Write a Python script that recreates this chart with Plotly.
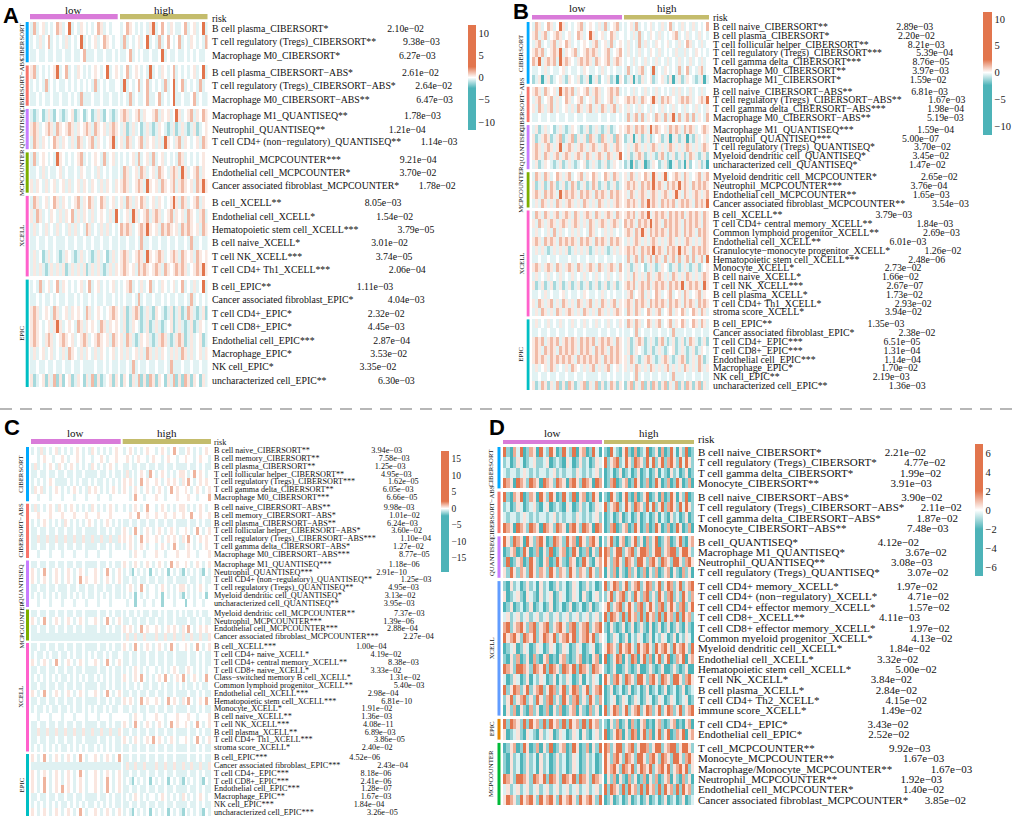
import plotly.graph_objects as go

W, H = 1020, 820
SERIF = "Liberation Serif"
SANS = "Liberation Sans"
TEAL = "#4DB3B8"
ORANGE = "#E2754D"
LOW_COLOR = "#D97BD9"
HIGH_COLOR = "#C4BC6C"

# cell shade codes (T strong teal ... O strong orange)
LEVELS = {"T": -3.0, "t": -1.2, "p": -0.4, ".": 0.0, "q": 0.4, "o": 1.2, "O": 3.0}

# ---------------- panel A ----------------
A_GROUPS = ["CIBERSORT", "CIBERSORT−ABS", "QUANTISEQ", "MCPCOUNTER", "XCELL", "EPIC"]
A_SIZES = [3, 3, 3, 3, 6, 8]
A_LABELS = [
    "B cell plasma_CIBERSORT*", "T cell regulatory (Tregs)_CIBERSORT**", "Macrophage M0_CIBERSORT*",
    "B cell plasma_CIBERSORT−ABS*", "T cell regulatory (Tregs)_CIBERSORT−ABS*", "Macrophage M0_CIBERSORT−ABS**",
    "Macrophage M1_QUANTISEQ**", "Neutrophil_QUANTISEQ**", "T cell CD4+ (non−regulatory)_QUANTISEQ**",
    "Neutrophil_MCPCOUNTER***", "Endothelial cell_MCPCOUNTER*", "Cancer associated fibroblast_MCPCOUNTER*",
    "B cell_XCELL**", "Endothelial cell_XCELL*", "Hematopoietic stem cell_XCELL***",
    "B cell naive_XCELL*", "T cell NK_XCELL***", "T cell CD4+ Th1_XCELL***",
    "B cell_EPIC**", "Cancer associated fibroblast_EPIC*", "T cell CD4+_EPIC*", "T cell CD8+_EPIC*",
    "Endothelial cell_EPIC***", "Macrophage_EPIC*", "NK cell_EPIC*", "uncharacterized cell_EPIC**",
]
A_PVALUES = [
    "2.10e−02", "9.38e−03", "6.27e−03",
    "2.61e−02", "2.64e−02", "6.47e−03",
    "1.78e−03", "1.21e−04", "1.14e−03",
    "9.21e−04", "3.70e−02", "1.78e−02",
    "8.05e−03", "1.54e−02", "3.79e−05", "3.01e−02", "3.74e−05", "2.06e−04",
    "1.11e−03", "4.04e−03", "2.32e−02", "4.45e−03", "2.87e−04", "3.53e−02", "3.35e−02", "6.30e−03",
]
A_CELLS = [
    "pop.qp.p.o qp.Op.pq.p .p.oqp.p.. | p.oq.p.p.p qOp.o.pq.p p.op.qp.Op",
    "p.pqp.op.p .pqp.p.Op. p.qp.oq.p. | pop.p.qp.O p.pop.o.p. op.pq.p.po",
    "pp.pp.pp.p p.pp.pp.op pp.pp.pp.p | pp.op.p.pp .pp.Op.pp. pp.p.p.pp.",
    "qop.p.p.qO p.op.pq.p. p.q.p.Op.q | p.op.q.p.p Op.pq.p.op .p.p.qp.Op",
    "p.p.pop.p. pp.p.p.p.p .pop.p.pp. | pOp.p.op.o p.p.pop.Op .op.p.pop.",
    "pp.p.pp.pp .pp.p.popp p.pp.pp.pp | p.pop.pp.o pp.op.p.Op p.pp.op.pp",
    "ptp.tpqpt. ptp.qtp.tp .tpqpt.ptp | qoqp.qopq. .qopq.qp.O qp.qopq.oq",
    "qoqp.qoqpo q.qoqpq.qo qpoq.qpqoq | pqtpqp.tpq ptpq.ptpqt pqptpqtp.q",
    "poqpq.p.oq pq.pqpoqp. qopq.p.qOp | qpoqp.qopq .qpqpOq.pq opq.p.qpoq",
    "pop.q.p.pO q.p.p.qop. p.q.pop.qp | p.p.qpop.q pop.qp.p.p oqp.p.p.q.",
    "pp.pqp.pp. qp.pp.pq.p p.pqp.p.pp | poqp.qpoqp .qpoq.pqoq pOqp.qopq.",
    "qpq.pqp.qp .qpqp.qpq. pq.pqpq.pq | qoqp.qoqpO q.qpoq.qop qoq.qpoqOq",
    "poqp.qp.oq pq.p.qopq. oqp.oqp.qp | qpoqpq.oqp .qpq.p.qOq poqp.qopq.",
    "qpoqp.pq.p qpq.opqpq. pqp.q.pqpO | p.qpOqp.qo pqoqp.qopq .qpoq.pqop",
    "pqp.pqp.pq p.pqpqp.po qp.pqpqp.p | oqoqp.qoqO q.qpoqoq.q poqoq.qpoq",
    "pp.pp.pp.p pp.pp.pp.p p.pp.pp.pp | pp.pp.popp .pp.pp.pp. pp.popp.pp",
    "pqp.tpqp.p tpq.ptpqp. ptpqp.tpqp | qoqp.qoqpO q.qoqp.qoq poq.qpoq.q",
    "pqpqptpqpq pqtpqpqpqt pqpqptpqpq | qoq.qpoqoq .qoqpoq.qo qoqp.qoqOq",
    "p.pop.qp.o pq.p.p.qp. op.qp.p.qp | p.qop.pqp. op.pq.p.qp .op.pqp.Op",
    "pp.p.pp.p. pp.pp.p.pp .p.pp.pp.p | p.pp.pop.p p.pp.p.pp. pp.pop.p.p",
    "qoqp.q.poq p.qpq.q.po qp.q.p.qoq | pqtpqoqtpq ptq.ptpqtp qtpoqptpqt",
    "qoq.p.qpqO qp.q.poqpq .q.poqpq.q | pqtpq.ptpq tpqptp.qtp qptpqtpq.p",
    "qoq.pqoqp. qoq.qp.qoq p.qoq.qpoq | qpoqptpq.q ptpqoqptpq oqtpqp.qtp",
    "pqp.qp.qp. pqpoq.pqpq .pqpq.p.qp | qpqp.qpqpo qpqpq.pqpq poqpqp.qpq",
    "pp.pp.pp.p p.pp.pp.pp pp.pp.p.pp | pp.pop.pp. pp.pp.popp p.pp.pp.pp",
    "qtp.qtqpot qt.qtpq.tq potqtp.qtq | tq.tqpotqt oqtq.tqpot qtoqtq.tqp",
]

# ---------------- panel B ----------------
B_GROUPS = ["CIBERSORT", "CIBERSORT−ABS", "QUANTISEQ", "MCPCOUNTER", "XCELL", "EPIC"]
B_SIZES = [7, 4, 5, 4, 12, 8]
B_LABELS = [
    "B cell naive_CIBERSORT**", "B cell plasma_CIBERSORT*", "T cell follicular helper_CIBERSORT**",
    "T cell regulatory (Tregs)_CIBERSORT***", "T cell gamma delta_CIBERSORT***",
    "Macrophage M0_CIBERSORT**", "Macrophage M1_CIBERSORT*",
    "B cell naive_CIBERSORT−ABS**", "T cell regulatory (Tregs)_CIBERSORT−ABS**",
    "T cell gamma delta_CIBERSORT−ABS***", "Macrophage M0_CIBERSORT−ABS**",
    "Macrophage M1_QUANTISEQ***", "Neutrophil_QUANTISEQ***", "T cell regulatory (Tregs)_QUANTISEQ*",
    "Myeloid dendritic cell_QUANTISEQ*", "uncharacterized cell_QUANTISEQ*",
    "Myeloid dendritic cell_MCPCOUNTER*", "Neutrophil_MCPCOUNTER***", "Endothelial cell_MCPCOUNTER**",
    "Cancer associated fibroblast_MCPCOUNTER**",
    "B cell_XCELL**", "T cell CD4+ central memory_XCELL**", "Common lymphoid progenitor_XCELL**",
    "Endothelial cell_XCELL**", "Granulocyte−monocyte progenitor_XCELL*", "Hematopoietic stem cell_XCELL***",
    "Monocyte_XCELL*", "B cell naive_XCELL*", "T cell NK_XCELL***", "B cell plasma_XCELL*",
    "T cell CD4+ Th1_XCELL*", "stroma score_XCELL*",
    "B cell_EPIC**", "Cancer associated fibroblast_EPIC*", "T cell CD4+_EPIC***", "T cell CD8+_EPIC***",
    "Endothelial cell_EPIC***", "Macrophage_EPIC*", "NK cell_EPIC**", "uncharacterized cell_EPIC**",
]
B_PVALUES = [
    "2.89e−03", "2.20e−02", "8.21e−03", "5.39e−04", "8.76e−05", "3.97e−03", "1.59e−02",
    "6.81e−03", "1.67e−03", "1.98e−04", "5.19e−03",
    "1.59e−04", "5.00e−07", "3.70e−02", "3.45e−02", "1.47e−02",
    "2.65e−02", "3.76e−04", "1.65e−03", "3.54e−03",
    "3.79e−03", "1.84e−03", "2.69e−03", "6.01e−03", "1.26e−02", "2.48e−06",
    "2.73e−02", "1.66e−02", "2.67e−07", "1.73e−02", "2.93e−02", "3.94e−02",
    "1.35e−03", "2.38e−02", "6.51e−05", "1.31e−04", "1.14e−04", "1.70e−02", "2.19e−03", "1.36e−03",
]
B_CELLS = [
    "poqp.oqp.O qp.p.qop.q .pqpop.qop | p.qpop.p.q p.pqp.op.p qp.pqp.p.o",
    "qopqop.qoq p.qp.oqp.O qp.qp.oqp. | p.pqpop.pq .pqp.p.qop .pqp.pqp.p",
    "pqop.pqopq .oqp.p.q.p qop.qpop.q | pqp.popqp. pq.p.qp.pq p.oqp.pqp.",
    "qoqop.qoqO pq.qop.qoq oqp.qop.qo | pqp.pqp.pq .pqp.p.pqp pqp.pq.p.p",
    "oqOpqoqopO qoq.pqoqoq poq.qopqoq | p.pqp.pqp. pqp.pqp.pq p.pqp.pqp.",
    "pp.pqp.pp. qp.pp.pq.p p.pqp.p.pp | pop.pqop.p Op.pq.p.po p.op.pqop.",
    "tpqTpqtp.q ptq.pqtpqT pqt.pqtpTq | tpqTptqp.q tp.qptqTpq tpq.ptpqTp",
    "qoqpoq.qpO qoqopq.qop qoqp.qoqop | p.pqp.pqp. pqp.p.pqpq p.pqp.pqp.",
    "pqop.qopqp .oqp.qop.q poqp.qopq. | qoqoqpoq.q Oqpoqoq.pq oqoqp.qoqO",
    "qpoqpqopqp .qpqpoqpqo pqpoqpqopq | pqp.pqp.pq p.pqp.pqp. pqp.pqp.pq",
    "pp.pp.pp.p p.pp.pp.pp pp.pp.pp.p | popqopopq. poqpopqOpo pqopopq.po",
    "pqtpqp.tpq ptpq.ptpqt pqptpqtp.q | qoqpoqoqpO qoq.qpoqoq poqoqp.qoq",
    "qtpqoqtpqo tpqotqpqto qptoqpqtoq | tpqTpqtpqt p.qtpqTpqt pqTptqp.qp",
    "qoqpqoqpqO pqoqpqoqpq oqpqoqpqoq | pqpqoqpqpq oqpqpqoqpq pqoqpqpqoq",
    "qoqpoqpqop qoqpqoqpoq pqoqpoqpqO | pqtpqoqtpq ptqoptpqtp qtpoqptpqt",
    "pqtpq.ptpq tpqptp.qtp qptpqtpq.p | tpTqtpqTtp q.tpqtTpqt pTqt.pqtpT",
    "poqpoqp.oq pqop.qopq. oqp.oqpoqp | qpoqpq.oqp OqpqOp.qoq poqp.qopqo",
    "qtpqtpoqtp qtpoqtpqtp oqtpqtpqtp | qoqoqpoqoq OqoqpoqoqO qoqpoqoqoq",
    "qoqpoqoqpO qoqoqpoqoq poqoqpoqoq | qpoqpqoqpq oqpqoqpqOq poqpqoqpqo",
    "pqpoqpqpoq pqoqpqpoqp qpoqpqpqoq | qoqoqpoqOq oqpoqoqopq oqoqpoqoqO",
    "poqpoqpqop qoqpoqpqoq poqpqoqpoq | qoqopqoqOp qoqoqpoqoq opqoqoqpoq",
    "qpoqpqoqpq oqpqoqpqpo qpqoqpqoqp | oqoqpoqoqO qoqpoqoqoq poqoqoqpoq",
    "pqp.pqpopq p.pqpqp.po qp.pqpqp.p | qoqpoqOqpo qoqoqpoqoq poqoqpoqoq",
    "qoqpoqoqpo qoqoqpoqoq poqoqpoqoq | pqpqoqpqpq oqpqpqoqpq pqoqpqpqoq",
    "pqpqptpqpq pqtpqpqpqt pqpqptpqpq | qoqoqpoqoq OqoqpoqoqO qoqpoqoqoq",
    "pp.pp.pp.p pp.pp.pp.p p.pp.pp.pp | popqopopqo poqpopqopo pqopopqopO",
    "qoqpqoqpoq pqoqpoqpqo qpoqpqoqpo | pqtpqp.tpq ptpq.ptpqt pqptpqtp.q",
    "pqp.pqp.pq p.pqp.pqp. pqp.pqp.pq | pqpoqpqpoq pqoqpqpoqp qpoqpqpqoq",
    "qtpqtpqtpq tpqtpqtpqt pqtpqtpqtp | qoqopqoqop qoqoqpoqoq OpqoqoqpOq",
    "pp.pqp.pp. qp.pp.pq.p p.pqp.p.pp | pqop.qopqp .oqp.qop.q poqp.qopq.",
    "qpoqpqopqp oqpqpoqpqo pqpoqpqopq | qoqpoqoqpo qoqoqpoqoq poqoqpoqoq",
    "pqpoqpqpoq pqoqpqpoqp qpoqpqpqoq | poqpoqp.oq pqop.qopq. oqp.oqpoqp",
    "pqp.pqp.pq p.pqp.pqp. pqp.pqp.pq | poqpoqp.oq pqop.qopq. oqp.oqpoqp",
    "pp.pp.pp.p p.pp.pp.pp pp.pp.pp.p | pp.pop.pp. pp.pp.popp p.pp.pp.pp",
    "qoqopqoqop qoqoqpoqoq opqoqoqpoq | pqtpqoqtpq ptqoptpqtp qtpoqptpqt",
    "qoqpoqoqpo qoqoqpoqoq poqoqpoqoq | pqtpq.ptpq tpqptp.qtp qptpqtpq.p",
    "qoqoqpoqoq oqoqpoqoqo qoqpoqoqoq | qpoqptpqoq ptpqoqptpq oqtpqpoqtp",
    "pqp.qpoqp. pqpoq.pqpq opqpqop.qp | qpqpoqpqpo qpqpqopqpq poqpqpoqpq",
    "pp.pp.pp.p p.pp.pp.pp pp.pp.p.pp | pp.pop.pp. pp.pp.popp p.pp.pp.pp",
    "qtpoqtqpot qtoqtpqotq potqtpoqtq | tqotqpotqt oqtqotqpot qtoqtqotqp",
]

# ---------------- panel C ----------------
C_GROUPS = ["CIBERSORT", "CIBERSORT−ABS", "QUANTISEQ", "MCPCOUNTER", "XCELL", "EPIC"]
C_SIZES = [7, 7, 6, 4, 14, 8]
C_LABELS = [
    "B cell naive_CIBERSORT**", "B cell memory_CIBERSORT**", "B cell plasma_CIBERSORT**",
    "T cell follicular helper_CIBERSORT**", "T cell regulatory (Tregs)_CIBERSORT***",
    "T cell gamma delta_CIBERSORT**", "Macrophage M0_CIBERSORT***",
    "B cell naive_CIBERSORT−ABS**", "B cell memory_CIBERSORT−ABS*", "B cell plasma_CIBERSORT−ABS**",
    "T cell follicular helper_CIBERSORT−ABS*", "T cell regulatory (Tregs)_CIBERSORT−ABS***",
    "T cell gamma delta_CIBERSORT−ABS*", "Macrophage M0_CIBERSORT−ABS***",
    "Macrophage M1_QUANTISEQ***", "Neutrophil_QUANTISEQ***", "T cell CD4+ (non−regulatory)_QUANTISEQ**",
    "T cell regulatory (Tregs)_QUANTISEQ**", "Myeloid dendritic cell_QUANTISEQ*",
    "uncharacterized cell_QUANTISEQ**",
    "Myeloid dendritic cell_MCPCOUNTER**", "Neutrophil_MCPCOUNTER***", "Endothelial cell_MCPCOUNTER***",
    "Cancer associated fibroblast_MCPCOUNTER***",
    "B cell_XCELL***", "T cell CD4+ naive_XCELL*", "T cell CD4+ central memory_XCELL**",
    "T cell CD8+ naive_XCELL*", "Class−switched memory B cell_XCELL*", "Common lymphoid progenitor_XCELL**",
    "Endothelial cell_XCELL***", "Hematopoietic stem cell_XCELL***", "Monocyte_XCELL*",
    "B cell naive_XCELL**", "T cell NK_XCELL***", "B cell plasma_XCELL**", "T cell CD4+ Th1_XCELL***",
    "stroma score_XCELL*",
    "B cell_EPIC***", "Cancer associated fibroblast_EPIC***", "T cell CD4+_EPIC***", "T cell CD8+_EPIC***",
    "Endothelial cell_EPIC***", "Macrophage_EPIC**", "NK cell_EPIC***", "uncharacterized cell_EPIC***",
]
C_PVALUES = [
    "3.94e−03", "7.58e−03", "1.25e−03", "4.95e−03", "1.62e−05", "6.05e−03", "6.66e−05",
    "9.98e−03", "1.01e−02", "6.24e−03", "3.60e−02", "1.10e−04", "1.27e−02", "8.77e−05",
    "1.18e−06", "2.91e−10", "1.25e−03", "4.95e−03", "3.13e−02", "3.95e−03",
    "7.37e−03", "1.39e−06", "2.88e−04", "2.27e−04",
    "1.00e−04", "4.19e−02", "8.38e−03", "3.33e−02", "1.31e−02", "5.40e−03", "2.98e−04",
    "6.81e−10", "1.91e−02", "1.36e−03", "4.08e−11", "6.89e−03", "3.86e−05", "2.40e−02",
    "4.52e−06", "2.43e−04", "8.18e−06", "2.41e−06", "1.28e−07", "1.67e−03", "1.84e−04", "3.26e−05",
]
C_CELLS = [
    "p.pqp.p.qp .p.p.q.p.p q.p.p.p.q. | p.q.p.p.q. .p.q.p.o.p p.q.p.p.q.",
    "..p.q..p.. q.p..q.p.. p..q.p..q. | .q.p.q..p. q..p.q..p. .q..p.q..p",
    "pqp.p.q.pq .p.q.p.p.p q.p.p.q.p. | pp.pp.pp.p p.pp.pp.pp pp.pp.p.pp",
    "pp.pp.pp.p p.pp.pp.pp pp.pp.p.pp | pqp.p.q.po .p.q.p.p.q q.p.o.q.p.",
    "p.p.p.q.pp pp.p.p.pp. p.pp.p.p.p | q.q.p.o.q. .q.p.q.q.p q.o.p.q.q.",
    "pq.qp.p.q. p.p.q.p.pq .q.p.p.q.p | q.p.q.p.q. p.q.p.o.q. .q.p.q.p.q",
    "..p...p... p...p...p. ..p...p... | ..p.o..p.. .q..p...q. ..q..p...o",
    "pqp.p.q.pq .p.q.p.p.p q.p.p.q.p. | p.p.q.p.o. .p.q.p.p.q q.p.p.q.p.",
    "..q...q... q...q...q. ..q...q... | ..q..o..q. .q..q..q.. q..o..q..q",
    "p.p.q.p.p. pq.p.p.p.q .p.p.q.p.p | pp.pp.pp.p p.pp.pp.pp pp.pp.p.pp",
    "pp.pp.pp.p p.pp.pp.pp pp.pp.p.pp | q.p.o.p.q. p.q.p.q.p. .q.p.o.p.q",
    "ppqppqppqp pqppqppqpp qppqppqppq | q.q.p.o.q. .q.p.q.q.p q.o.p.q.q.",
    "pp.pp.pp.p p.pp.pp.pp pp.pp.p.pp | p.q.p.q.p. .p.q.p.o.p p.q.p.p.q.",
    "..p...p... p...p...p. ..p...p... | ..p.q..p.. .q..p...q. ..q..p...q",
    "pp.pp.pp.p p.pp.pp.pp pp.pp.p.pp | q.p.q.p.q. p.q.p.o.q. .q.p.q.p.q",
    "q.p.o.p.q. p.q.p.q.p. .q.p.o.p.q | p.pt.p.p.t .p.p.t.p.p t.p.p.pt.p",
    "q.p.q.p.q. p.q.p.o.q. .q.p.q.p.q | pp.pp.pp.p p.pp.pp.pp pp.pp.p.pp",
    "pp.pp.pp.p pp.pp.pp.p p.pp.pp.pp | p.q.p.o.p. .p.q.p.p.q q.p.p.q.p.",
    "p.p.p.p.p. pp.p.p.p.p p.p.p.p.pp | p.p.t.p.p. .p.t.p.p.p t.p.p.p.t.",
    "..p...p... p...p...p. ..p...p... | .p..t..p.. p..t...p.. .t..p..p..",
    "pp.pp.pp.p p.pp.pp.pp pp.pp.p.pp | p.pp.p.pp. pp.p.pp.p. p.pp.p.pp.",
    "q.p.o.p.q. p.q.p.q.p. .q.p.o.p.q | pp.pp.pp.p p.pp.pp.pp pp.pp.p.pp",
    "pp.pp.pp.p p.pp.pp.pp pp.pp.p.pp | q.q.p.o.q. .q.p.q.q.p q.o.p.q.q.",
    "pppppppppp pppppppppp pppppppppp | pqppqppqpp pqppqppqpp qppqppqppq",
    "pp.pp.pp.p p.pp.pp.pp pp.pp.p.pp | q.p.o.p.q. p.q.p.o.p. .q.p.o.p.q",
    "p.pp.p.pp. pp.p.pp.p. p.pp.p.pp. | pp.pp.pp.p p.pp.pp.pp pp.pp.p.pp",
    "q.p.q.p.o. p.q.p.q.p. .q.p.o.p.q | pp.pp.pp.p p.pp.pp.pp pp.pp.p.pp",
    "pp.pp.pp.p p.pp.pp.pp pp.pp.p.pp | p.p.q.p.p. .p.p.p.q.p p.q.p.p.p.",
    "p.p.p.p.p. pp.p.p.p.p p.p.p.p.pp | q.p.q.o.p. p.q.o.p.q. o.p.q.p.o.",
    "pp.pp.pp.p p.pp.pp.pp pp.pp.p.pp | p.pp.p.pp. pp.p.pp.p. p.pp.p.pp.",
    "q.p.o.p.q. p.q.p.q.p. .q.p.o.p.q | pp.pp.pp.p p.pp.pp.pp pp.pp.p.pp",
    "pp.pp.pp.p p.pp.pp.pp pp.pp.p.pp | q.q.p.o.q. .q.p.o.q.p q.o.p.q.o.",
    "p.pp.p.pp. pp.p.pp.p. p.pp.p.pp. | pp.pp.pp.p p.pp.pp.pp pp.pp.p.pp",
    "..p...p... p...p...p. ..p...p... | ..p.q..p.. .q..p...q. ..q..p...q",
    "pp.pp.pp.p p.pp.pp.pp pp.pp.p.pp | q.p.o.p.q. p.q.p.o.q. .q.p.o.p.q",
    "ppqppqppqp pqppqppqpp qppqppqppq | pp.pp.pp.p p.pp.pp.pp pp.pp.p.pp",
    "pp.pp.pp.p p.pp.pp.pp pp.pp.p.pp | q.p.q.p.q. o.q.p.q.p. .q.p.o.p.q",
    "p.p.p.p.p. pp.p.p.p.p p.p.p.p.pp | pp.pp.pp.p p.pp.pp.pp pp.pp.p.pp",
    "q.p.o.p.q. p.q.p.o.p. .q.p.q.p.o | pp.pp.pp.p p.pp.pp.pp pp.pp.p.pp",
    "pppppppppp pppppppppp pppppppppp | pqppqppqpp pqppqppqpp qppqppqppq",
    "q.p.q.p.q. p.q.p.o.p. .q.p.q.p.q | pp.pp.pp.p p.pp.pp.pp pp.pp.p.pp",
    "q.p.o.p.q. p.q.p.q.p. .q.p.o.p.q | p.pt.p.p.t .p.p.t.p.p t.p.p.pt.p",
    "q.p.o.p.q. o.q.p.q.p. .q.p.o.p.q | pp.pp.pp.p p.pp.pp.pp pp.pp.p.pp",
    "pp.pp.pp.p p.pp.pp.pp pp.pp.p.pp | p.p.q.p.p. .p.q.p.p.p q.p.p.q.p.",
    "p.p.p.p.p. pp.p.p.p.p p.p.p.p.pp | pp.pp.pp.p p.pp.pp.pp pp.pp.p.pp",
    "q.p.q.p.q. p.q.p.o.p. .q.p.q.p.q | p.pt.p.p.t .p.p.t.p.p t.p.p.pt.p",
]

# ---------------- panel D ----------------
D_GROUPS = ["CIBERSORT", "CIBERSORT−ABS", "QUANTISEQ", "XCELL", "EPIC", "MCPCOUNTER"]
D_SIZES = [4, 4, 4, 13, 2, 6]
D_LABELS = [
    "B cell naive_CIBERSORT*", "T cell regulatory (Tregs)_CIBERSORT*", "T cell gamma delta_CIBERSORT*",
    "Monocyte_CIBERSORT**",
    "B cell naive_CIBERSORT−ABS*", "T cell regulatory (Tregs)_CIBERSORT−ABS*",
    "T cell gamma delta_CIBERSORT−ABS*", "Monocyte_CIBERSORT−ABS**",
    "B cell_QUANTISEQ*", "Macrophage M1_QUANTISEQ*", "Neutrophil_QUANTISEQ**",
    "T cell regulatory (Tregs)_QUANTISEQ*",
    "T cell CD4+ memory_XCELL*", "T cell CD4+ (non−regulatory)_XCELL*", "T cell CD4+ effector memory_XCELL*",
    "T cell CD8+_XCELL**", "T cell CD8+ effector memory_XCELL*", "Common myeloid progenitor_XCELL*",
    "Myeloid dendritic cell_XCELL*", "Endothelial cell_XCELL*", "Hematopoietic stem cell_XCELL*",
    "T cell NK_XCELL*", "B cell plasma_XCELL*", "T cell CD4+ Th2_XCELL*", "immune score_XCELL*",
    "T cell CD4+_EPIC*", "Endothelial cell_EPIC*",
    "T cell_MCPCOUNTER**", "Monocyte_MCPCOUNTER**", "Macrophage/Monocyte_MCPCOUNTER**",
    "Neutrophil_MCPCOUNTER**", "Endothelial cell_MCPCOUNTER*", "Cancer associated fibroblast_MCPCOUNTER*",
]
D_PVALUES = [
    "2.21e−02", "4.77e−02", "1.99e−02", "3.91e−03",
    "3.90e−02", "2.11e−02", "1.87e−02", "7.48e−03",
    "4.12e−02", "3.67e−02", "3.08e−03", "3.07e−02",
    "1.97e−02", "4.71e−02", "1.57e−02", "4.11e−03", "1.97e−02", "4.13e−02", "1.84e−02",
    "3.32e−02", "5.00e−02", "3.84e−02", "2.84e−02", "4.15e−02", "1.49e−02",
    "3.43e−02", "2.52e−02",
    "9.92e−03", "1.67e−03", "1.67e−03", "1.92e−03", "1.40e−02", "3.85e−02",
]
D_CELLS = [
    "OtTopOTtoq TOptOqTtOp tOTqoTtOpT | tTOptTqOtT oTtpOTtqTo TtOpTqtOTt",
    "tpTtqpTtpq ttpqTtptTq pTtqtpTtqp | OtqoOtpOqt OoqtOpOtqO toOqtOpOqt",
    "ptpptpqptp tpptpqtptp ptqptptpqt | TtpTtqTtpT tqTtpTtqTp tTqtpTtqTt",
    "OoqTOoqtOo qTOoqtOoqT oOqtOoqTOo | TtoOTtqoTt OqTtoTtOqT toTtOqTtoT",
    "OtToqOTtoq TOqtOqTtOp tOTqoTtOqT | tTOqtTqOtT oTtqOTtqTo TtOqTqtOTt",
    "tpTtqpTtpq tTpqTtptTq pTtqtpTtqp | OtqoOtpOqt OoqtOpOtqO toOqtOpOqt",
    "ptpptpqptp tpptpqtptp ptqptptpqt | TtpTtqTtpT tqTtpTtqTp tTqtpTtqTt",
    "OoqTOoqtOo qTOoqtOoqT oOqtOoqTOo | TtoOTtqoTt OqTtoTtOqT toTtOqTtoT",
    "OqtOoqTOqt oOqTtOoqtO qoTOqtoOqT | tqOtTqoTtq OtqTotqOTt qoTtqOtTqo",
    "TtqoTtOqTt oTqtOTtqoT tOqTtoTqtO | OotqOOtqoO tqOOotqOOt qoOOtqOOqt",
    "tOTtqoTtOq tTqoTtOqtT oqTtOqtTqo | OqtoOqtOoq tOOqtoOqtO oqtOOqtoOq",
    "qtOqtoqtOq toqtOqtoqt OqtoqtOqto | TqtoTqtTot qTtoTqtoTt qoTqtTotqT",
    "tTqtpTtqtp TqtpTtqtpT tqpTtqtpTt | OtqOotqOtq oOtqOotqOt qOotqOtqoO",
    "qTtpqtTqpt TqtpqTtqpT tqpTqtTpqt | tqOtqoOtqt OqtoOtqtOq toOtqtOqto",
    "TtqTtpTtqT tpTtqTtpTt qTtpTtqTtp | qOtqoOtqOq toOtqOqtoO tqOqtoOtqO",
    "pqtpqtpqtp qtpqtpqtpq tpqtpqtpqt | OtOoqtOtOq otOtOqotOt OqotOtOqot",
    "oOtqoOqtoO tqoOtqoOqt oOtqoOtqoO | tTqtTtqTtq TtqtTqTtqT tqTtqtTqtT",
    "OqoOqtOoqO tqOoqOtqoO qOtqoOqOtq | pTtqpTtqTp tqpTtqTptq pTtqTptqpT",
    "TtpqTtqpTt qpTtqpTtqp TtqpTtpqTt | qOoqtOqoOq tOqoOqtOqo OqtOqoOqtO",
    "tTqtoTtqTo tTqoTtTqot TtqoTtTqoT | OTtqOoTqtO oTqOtoTqOt qOTtoqOTqo",
    "OoqtOOoqtO oqOtOoqtOo qOtOoqtOoq | tTtqTTtqtT tqTTtqtTtq TTtqtTtqTT",
    "pTtqpTtqTp tqpTtqTptq pTtqTptqpT | OqtoOqtOoq tOOqtoOqtO oqtOOqtoOq",
    "OtqOotqOtq oOtqOotqOt qOotqOtqoO | TtqTtpTtqT tpTtqTtpTt qTtpTtqTtp",
    "tqOtqoOtqt OqtoOtqtOq toOtqtOqto | TtpqTtqpTt qpTtqpTtqp TtqpTtpqTt",
    "TqtoTqtTot qTtoTqtoTt qoTqtTotqT | OtqOotqOtq oOtqOotqOt qOotqOtqoO",
    "OtOoqtOtOq otOtOqotOt OqotOtOqot | tTqtoTtqTo tTqoTtTqot TtqoTtTqoT",
    "qTtpqtTqpt TqtpqTtqpT tqpTqtTpqt | OTtqOoTqtO oTqOtoTqOt qOTtoqOTqo",
    "TtqoTtOqTt oTqtOTtqoT tOqTtoTqtO | OotqOOtqoO tqOOotqOOt qoOOtqOOqt",
    "tTqtpTtqtp TqtpTtqtpT tqpTtqtpTt | OqtoOqtOoq tOOqtoOqtO oqtOOqtoOq",
    "tTqtpTtqtp TqtpTtqtpT tqpTtqtpTt | OqoOqtOoqO tqOoqOtqoO qOtqoOqOtq",
    "OoqtOOoqtO oqOtOoqtOo qOtOoqtOoq | TqtoTqtTot qTtoTqtoTt qoTqtTotqT",
    "pqtpqtpqtp qtpqtpqtpq tpqtpqtpqt | OtOoqtOtOq otOtOqotOt OqotOtOqot",
    "qOoqtOqoOq tOqoOqtOqo OqtOqoOqtO | TtqTtpTtqT tpTtqTtpTt qTtpTtqTtp",
]

A_TICKS = [10, 5, 0, -5, -10]
B_TICKS = [10, 5, 0, -5, -10]
C_TICKS = [15, 10, 5, 0, -5, -10, -15]
D_TICKS = [6, 4, 2, 0, -2, -4, -6]

HUE6 = ["#00A9FF", "#F8766D", "#C77CFF", "#7CAE00", "#FF61CC", "#00BFC4"]
HUE_D = ["#00A9FF", "#F8766D", "#C77CFF", "#619CFF", "#E58700", "#00BA38"]

# layout of each panel, in pixels of the 1020x820 page
STYLES = {
    "A": dict(left=30, right=207.5, split=(117.7, 120), top=22, bottom=387, gap=3.2,
              bar=(14, 19.3), lowhigh_y=10, risk_y=18.5, bar_x=(25.7, 28.7), glabel_x=21.5, label_x=212,
              fsize=9.8, pad=48, letter=(2, 15), cb=(468, 25, 130, 8), zr=(-11.8, 11.8), brk=2.4,
              cbfont=10.5, ticks=A_TICKS, colors=HUE6),
    "B": dict(left=532, right=709, split=(622, 624), top=22, bottom=390, gap=3,
              bar=(15, 19.5), lowhigh_y=7.5, risk_y=17, bar_x=(526.7, 529.5), glabel_x=521, label_x=713,
              fsize=9.8, pad=52, letter=(512, 11), cb=(983, 12, 135, 9), zr=(-11.7, 11.3), brk=2.4,
              cbfont=10.5, ticks=B_TICKS, colors=HUE6),
    "C": dict(left=31, right=211, split=(120.7, 122.7), top=447, bottom=816, gap=2.5,
              bar=(439, 444), lowhigh_y=432.5, risk_y=442, bar_x=(26, 29), glabel_x=20.5, label_x=213.5,
              fsize=8.2, pad=54, letter=(3, 427), cb=(441, 451, 572, 7.5), zr=(-19.2, 17.4), brk=2.2,
              cbfont=9.5, ticks=C_TICKS, colors=HUE6),
    "D": dict(left=503, right=694, split=(602, 604), top=447, bottom=805, gap=3.3,
              bar=(440, 444), lowhigh_y=433, risk_y=439, bar_x=(497.5, 500.5), glabel_x=491, label_x=698,
              fsize=11, pad=46, letter=(488, 427), cb=(975, 444, 576, 8), zr=(-6.95, 6.95), brk=2.0,
              cbfont=10.5, ticks=D_TICKS, colors=HUE_D),
}


def px(x):
    return x / W


def py(y):
    return 1 - y / H


def parse_row(s, n=30):
    low, high = s.replace(" ", "").split("|")
    low = (low + "." * n)[:n]
    high = (high + "." * n)[:n]
    return [LEVELS.get(c, 0.0) for c in low], [LEVELS.get(c, 0.0) for c in high]


def add_panel(fig, k, letter, groups, sizes, labels, pvalues, cells, st):
    ax = "" if k == 1 else str(k)
    left, right = st["left"], st["right"]
    s1, s2 = st["split"]
    top, bottom, gap = st["top"], st["bottom"], st["gap"]
    parsed = [parse_row(c) for c in cells]
    nl, nh = len(parsed[0][0]), len(parsed[0][1])

    xe = [left + i * (s1 - left) / nl for i in range(nl + 1)]
    xe += [s2 + i * (right - s2) / nh for i in range(nh + 1)]

    nrows = sum(sizes)
    rh = (bottom - top - gap * (len(sizes) - 1)) / nrows
    ye, z, centers, spans = [top], [], [], []
    y, r = top, 0
    for gi, n in enumerate(sizes):
        if gi > 0:
            y += gap
            ye.append(y)
            z.append([None] * (nl + nh + 1))
        g0 = y
        for _ in range(n):
            lo, hi = parsed[r]
            z.append(lo + [None] + hi)
            centers.append(y + rh / 2)
            y += rh
            ye.append(y)
            r += 1
        spans.append((g0, y))

    zmin, zmax = st["zr"]
    b = st["brk"]

    def pos(v):
        return (v - zmin) / (zmax - zmin)

    cs = [[0, TEAL], [pos(-b), TEAL], [pos(0), "#FFFFFF"], [pos(b), ORANGE], [1, ORANGE]]
    cbx, cby0, cby1, cbw = st["cb"]
    fig.add_trace(go.Heatmap(
        x=xe, y=ye, z=z, zmin=zmin, zmax=zmax, colorscale=cs,
        xaxis="x" + ax, yaxis="y" + ax, hoverongaps=False,
        colorbar=dict(x=px(cbx), xanchor="left", y=py(cby0), yanchor="top",
                      len=cby1 - cby0, lenmode="pixels", thickness=cbw, thicknessmode="pixels",
                      tickvals=st["ticks"], ticks="", ticklen=0, outlinewidth=0, xpad=0, ypad=0,
                      tickfont=dict(family=SERIF, size=st["cbfont"], color="#222")),
    ))
    fig.update_layout(**{
        "xaxis" + ax: dict(domain=[px(left), px(right)], range=[left, right], visible=False,
                           fixedrange=True, anchor="y" + ax),
        "yaxis" + ax: dict(domain=[py(bottom), py(top)], range=[bottom, top], visible=False,
                           fixedrange=True, anchor="x" + ax),
    })

    shapes, ann = [], []
    b0, b1 = st["bar"]
    for (x0, x1), col in (((left, s1), LOW_COLOR), ((s2, right), HIGH_COLOR)):
        shapes.append(dict(type="rect", xref="paper", yref="paper", x0=px(x0), x1=px(x1),
                           y0=py(b1), y1=py(b0), fillcolor=col, line_width=0))
    for txt, (x0, x1) in (("low", (left, s1)), ("high", (s2, right))):
        ann.append(dict(text=txt, x=px((x0 + x1) / 2), y=py(st["lowhigh_y"]), xanchor="center",
                        yanchor="middle", font=dict(family=SERIF, size=11, color="#111")))
    ann.append(dict(text="risk", x=px(st["label_x"] - 1), y=py(st["risk_y"]), xanchor="left",
                    yanchor="middle", font=dict(family=SERIF, size=st["fsize"], color="#111")))
    ann.append(dict(text="<b>%s</b>" % letter, x=px(st["letter"][0]), y=py(st["letter"][1]),
                    xanchor="left", yanchor="middle", font=dict(family=SANS, size=22, color="#000")))

    gx0, gx1 = st["bar_x"]
    for g, (y0, y1), col in zip(groups, spans, st["colors"]):
        shapes.append(dict(type="rect", xref="paper", yref="paper", x0=px(gx0), x1=px(gx1),
                           y0=py(y1), y1=py(y0), fillcolor=col, line_width=0))
        ann.append(dict(text=g, x=px(st["glabel_x"]), y=py((y0 + y1) / 2), textangle=-90,
                        xanchor="center", yanchor="middle",
                        font=dict(family=SERIF, size=6.8, color="#111")))

    for lab, pv, cy in zip(labels, pvalues, centers):
        fill = "\u00a0" * max(2, st["pad"] - len(lab))
        ann.append(dict(text=lab + fill + pv, x=px(st["label_x"] - 1), y=py(cy), xanchor="left",
                        yanchor="middle", font=dict(family=SERIF, size=st["fsize"], color="#111")))
    return shapes, ann


fig = go.Figure()
all_shapes, all_ann = [], []
panels = [
    ("A", A_GROUPS, A_SIZES, A_LABELS, A_PVALUES, A_CELLS),
    ("B", B_GROUPS, B_SIZES, B_LABELS, B_PVALUES, B_CELLS),
    ("C", C_GROUPS, C_SIZES, C_LABELS, C_PVALUES, C_CELLS),
    ("D", D_GROUPS, D_SIZES, D_LABELS, D_PVALUES, D_CELLS),
]
for k, (letter, groups, sizes, labels, pvalues, cells) in enumerate(panels, start=1):
    s, a = add_panel(fig, k, letter, groups, sizes, labels, pvalues, cells, STYLES[letter])
    all_shapes += s
    all_ann += a

# dashed separator between the two rows of panels
all_shapes.append(dict(type="line", xref="paper", yref="paper", x0=0, x1=1, y0=py(409), y1=py(409),
                       line=dict(color="#A0A0A0", width=1.3, dash="12px,8px")))

for a in all_ann:
    a.update(xref="paper", yref="paper", showarrow=False, borderpad=0)

fig.update_layout(
    width=W, height=H,
    margin=dict(l=0, r=0, t=0, b=0),
    paper_bgcolor="white", plot_bgcolor="white",
    showlegend=False,
    shapes=all_shapes,
    annotations=all_ann,
)

# the page body has a default 8px margin; drop it so the figure sits at the window corner
fig.write_html("out.html", config={"displayModeBar": False},
               post_script="document.body.style.margin='0px';")
